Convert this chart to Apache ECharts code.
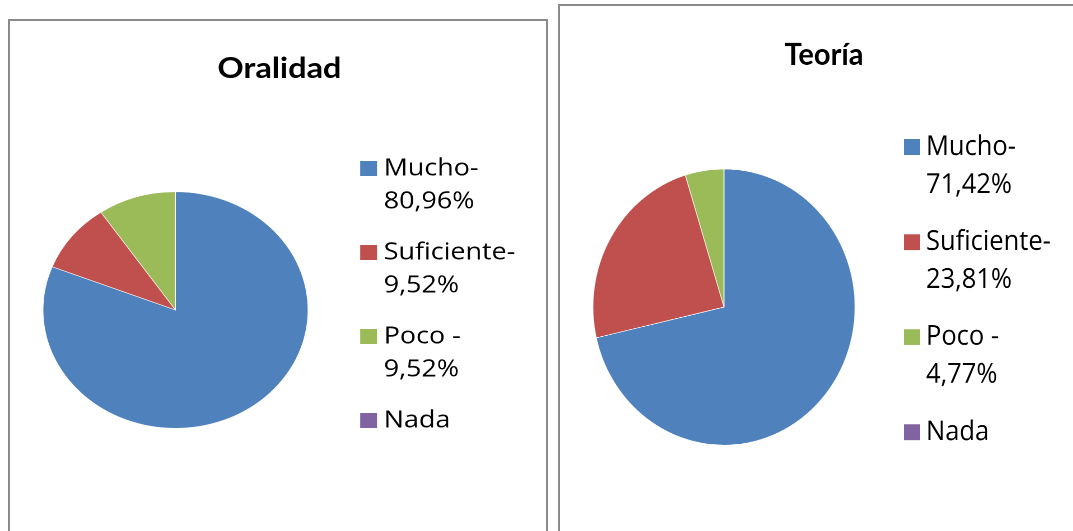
<!DOCTYPE html>
<html>
<head>
<meta charset="utf-8">
<script src="https://cdn.jsdelivr.net/npm/echarts@6/dist/echarts.min.js"></script>
<style>
  html, body { margin: 0; padding: 0; background: #fff; width: 1073px; height: 531px; overflow: hidden; position: relative; }
  .frame { position: absolute; box-sizing: border-box; border: 2px solid #8a8a8a; border-bottom: none; height: 700px; }
  #boxL { left: 8px; top: 19px; width: 540px; }
  #boxR { left: 558px; top: 4px; width: 700px; }
  #chartL { position: absolute; left: 0; top: 0; width: 499px; height: 531px; transform: scaleX(1.12); transform-origin: 0 0; }
  #chartR { position: absolute; left: 554px; top: 0; width: 540px; height: 504px; transform: scaleY(1.054); transform-origin: 0 0; }
</style>
</head>
<body>
<div class="frame" id="boxL"></div>
<div class="frame" id="boxR"></div>
<div id="chartL"></div>
<div id="chartR"></div>
<script>
const categories = ['Mucho', 'Suficiente', 'Poco', 'Nada'];
const colors = ['#4F81BD', '#C0504D', '#9BBB59', '#8064A2'];

const oralidadTitle = 'Oralidad';
const oralidadValues = [80.96, 9.52, 9.52, 0];
const oralidadLabels = ['Mucho-\n80,96%', 'Suficiente-\n9,52%', 'Poco -\n9,52%', 'Nada'];

const teoriaTitle = 'Teoría';
const teoriaValues = [71.42, 23.81, 4.77, 0];
const teoriaLabels = ['Mucho-\n71,42%', 'Suficiente-\n23,81%', 'Poco -\n4,77%', 'Nada'];

function legendText(labels, name) {
  const lab = labels[categories.indexOf(name)];
  // blank first line so that the first visible line sits beside the icon
  return lab.indexOf('\n') >= 0 ? '\u00a0\n' + lab : '\u00a0\n' + lab + '\n\u00a0';
}

function buildOption(cfg) {
  return {
    animation: false,
    color: colors,
    title: {
      text: cfg.title,
      left: 'center',
      top: cfg.titleTop,
      padding: 0,
      textStyle: { fontFamily: 'Lato', fontWeight: 'bold', fontSize: 29, color: '#000' }
    },
    legend: {
      orient: 'vertical',
      left: cfg.legendLeft,
      top: cfg.legendTop,
      padding: 0,
      itemGap: cfg.itemGap,
      itemWidth: cfg.iconW,
      itemHeight: cfg.iconH,
      icon: 'rect',
      selectedMode: false,
      data: categories,
      formatter: function (name) { return legendText(cfg.labels, name); },
      textStyle: { fontFamily: 'Open Sans', fontSize: cfg.fontSize, color: '#000', lineHeight: cfg.lineH }
    },
    series: [{
      type: 'pie',
      center: cfg.center,
      radius: cfg.radius,
      startAngle: 90,
      clockwise: true,
      silent: true,
      label: { show: false },
      labelLine: { show: false },
      itemStyle: { borderColor: '#ffffff', borderWidth: 0.6 },
      data: categories.map(function (c, i) { return { name: c, value: cfg.values[i] }; })
    }]
  };
}

const chartL = echarts.init(document.getElementById('chartL'), null, { renderer: 'canvas', devicePixelRatio: 2 });
chartL.setOption(buildOption({
  title: oralidadTitle, titleTop: 54,
  labels: oralidadLabels, values: oralidadValues,
  legendLeft: 319.6, legendTop: 119, itemGap: -15, iconW: 17, iconH: 17,
  fontSize: 24, lineH: 33,
  center: [156.7, 310], radius: 118.3
}));

const chartR = echarts.init(document.getElementById('chartR'), null, { renderer: 'canvas', devicePixelRatio: 2 });
chartR.setOption(buildOption({
  title: teoriaTitle, titleTop: 37.7,
  labels: teoriaLabels, values: teoriaValues,
  legendLeft: 348, legendTop: 85.5, itemGap: -17.8, iconW: 18, iconH: 17,
  fontSize: 25.5, lineH: 36,
  center: [170, 291.3], radius: 131
}));
</script>
</body>
</html>
